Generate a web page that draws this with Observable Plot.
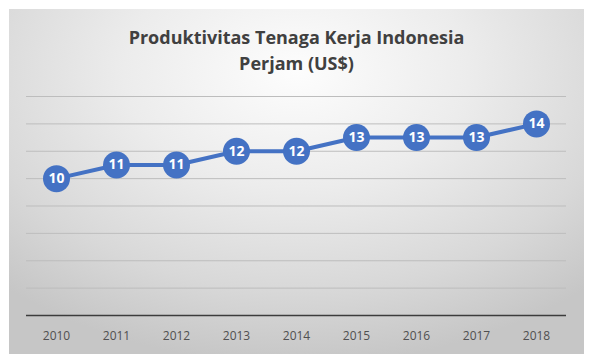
<!DOCTYPE html>
<html>
<head>
<meta charset="utf-8">
<script src="https://cdn.jsdelivr.net/npm/d3@7"></script>
<script src="https://cdn.jsdelivr.net/npm/@observablehq/plot@0.6"></script>
<style>
  html, body { margin: 0; padding: 0; background: #fff; }
  #panel {
    position: absolute; left: 9px; top: 9px; width: 575px; height: 345px;
    background: radial-gradient(ellipse 75% 85% at 50% 18%, #fdfdfd 0%, #ececec 40%, #d8d8d8 75%, #c6c6c6 100%);
    overflow: hidden;
  }
  #title {
    height: 71px; box-sizing: border-box; padding-top: 15px;
    text-align: center; font-family: "Open Sans", sans-serif; font-weight: 700;
    font-size: 18px; line-height: 26px; color: #404040;
  }
  svg { display: block; background: transparent !important; }
</style>
</head>
<body>
<div id="panel">
  <div id="title">Produktivitas Tenaga Kerja Indonesia<br>Perjam (US$)</div>
  <div id="chart"></div>
</div>
<script>
const years = ["2010","2011","2012","2013","2014","2015","2016","2017","2018"];
const values = [10, 11, 11, 12, 12, 13, 13, 13, 14];
const gridTicks = [2, 4, 6, 8, 10, 12, 14, 16];

const data = years.map((y, i) => ({year: y, value: values[i]}));

const chart = Plot.plot({
  width: 575,
  height: 274,
  marginLeft: 17,
  marginRight: 18,
  marginTop: 16,
  marginBottom: 39,
  style: {background: "transparent", fontFamily: "Open Sans, sans-serif"},
  x: {type: "band", domain: years, padding: 0, label: null},
  y: {domain: [0, 16], axis: null},
  marks: [
    Plot.gridY(gridTicks, {stroke: "#bdbdbd", strokeOpacity: 1}),
    Plot.ruleY([0], {stroke: "#3c3c3c", strokeWidth: 1.6}),
    Plot.axisX({tickSize: 0, tickPadding: 16, fontSize: 12, fill: "#505050", label: null}),
    Plot.line(data, {x: "year", y: "value", stroke: "#4472C4", strokeWidth: 4}),
    Plot.dot(data, {x: "year", y: "value", r: 13.5, fill: "#4472C4", stroke: "none"}),
    Plot.text(data, {x: "year", y: "value", text: d => String(d.value), fill: "white", fontWeight: "bold", fontSize: 14})
  ]
});
document.getElementById("chart").appendChild(chart);
</script>
</body>
</html>
